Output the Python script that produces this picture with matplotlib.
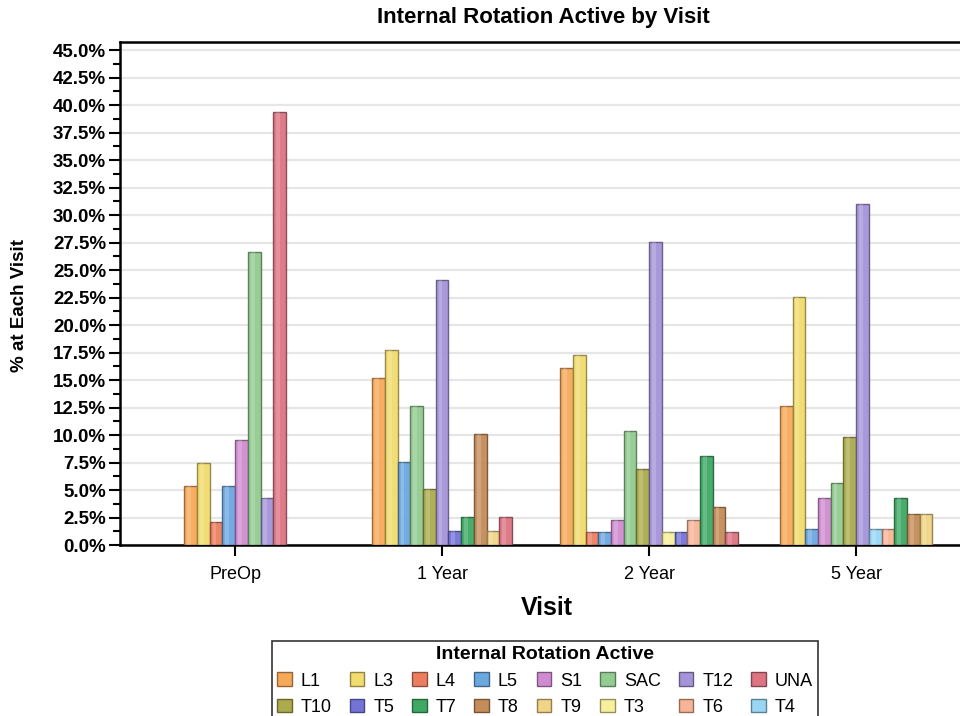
import numpy as np
import matplotlib
matplotlib.use("Agg")
import matplotlib.pyplot as plt
from matplotlib.patches import Patch
from matplotlib.ticker import MultipleLocator, FuncFormatter
import matplotlib.colors as mcolors

plt.rcParams['font.family'] = ['Liberation Sans', 'DejaVu Sans']

visits = ["PreOp", "1 Year", "2 Year", "5 Year"]

# series in the order the bars are drawn inside each group
series = ["L1", "L3", "L4", "L5", "S1", "SAC", "T10", "T12",
          "T3", "T4", "T5", "T6", "T7", "T8", "T9", "UNA"]

# legend order (row by row)
legend_order = ["L1", "L3", "L4", "L5", "S1", "SAC", "T12", "UNA",
                "T10", "T5", "T7", "T8", "T9", "T3", "T6", "T4"]

colors = {
    "L1": "#F7A95A", "L3": "#F2DC6E", "L4": "#EC7E60", "L5": "#6CA8E0",
    "S1": "#D08CD0", "SAC": "#92CC90", "T12": "#A594D8", "UNA": "#DC7482",
    "T10": "#ABAB4C", "T5": "#7474D8", "T7": "#3EA864", "T8": "#C48C58",
    "T9": "#F2D486", "T3": "#F7EF9C", "T6": "#F7B496", "T4": "#98D6F4",
}

# % at each visit (0 = no bar)
pct = {
    "L1":  [5.32, 15.19, 16.09, 12.68],
    "L3":  [7.45, 17.72, 17.24, 22.54],
    "L4":  [2.13, 0.0, 1.15, 0.0],
    "L5":  [5.32, 7.59, 1.15, 1.41],
    "S1":  [9.57, 0.0, 2.30, 4.23],
    "SAC": [26.60, 12.66, 10.34, 5.63],
    "T10": [0.0, 5.06, 6.90, 9.86],
    "T12": [4.26, 24.05, 27.59, 30.99],
    "T3":  [0.0, 0.0, 1.15, 0.0],
    "T4":  [0.0, 0.0, 0.0, 1.41],
    "T5":  [0.0, 1.27, 1.15, 0.0],
    "T6":  [0.0, 0.0, 2.30, 1.41],
    "T7":  [0.0, 2.53, 8.05, 4.23],
    "T8":  [0.0, 10.13, 3.45, 2.82],
    "T9":  [0.0, 1.27, 0.0, 2.82],
    "UNA": [39.36, 2.53, 1.15, 0.0],
}

def darker(c, f=0.6):
    r, g, b = mcolors.to_rgb(c)
    return (r * f, g * f, b * f)

fig = plt.figure(figsize=(9.6, 7.16), dpi=100)
ax = fig.add_axes([0.125, 1 - 545 / 716, 0.875, (545 - 42) / 716])

bw = 0.0614
for i, v in enumerate(visits):
    present = [s for s in series if pct[s][i] > 0]
    n = len(present)
    for k, s in enumerate(present):
        x = i + (k - (n - 1) / 2) * bw
        val = pct[s][i]
        ax.bar(x, val, width=bw, color=colors[s], edgecolor=darker(colors[s]),
               linewidth=1.0, alpha=0.95, zorder=3)
        # soft highlight to mimic the shaded look
        ax.bar(x - bw * 0.12, val, width=bw * 0.3, color="white", alpha=0.18,
               linewidth=0, zorder=4)

ax.set_xlim(-0.556, 3.502)
ax.set_ylim(0, 45.73)
ax.set_xticks(range(len(visits)))
ax.set_xticklabels(visits, fontsize=13)
ax.yaxis.set_major_locator(MultipleLocator(2.5))
ax.yaxis.set_minor_locator(MultipleLocator(1.25))
ax.yaxis.set_major_formatter(FuncFormatter(lambda v, p: f"{v:.1f}%"))
for lab in ax.get_yticklabels():
    lab.set_fontweight("bold")
ax.tick_params(axis="y", labelsize=13.5, length=8, width=1.5, direction="out", pad=2)
ax.tick_params(axis="y", which="minor", length=5, width=1.5)
ax.tick_params(axis="x", length=8, width=1.5, direction="out", pad=7)
ax.grid(axis="y", color="#E6E6E6", linewidth=1.6, zorder=0)
ax.set_axisbelow(True)
ax.spines["right"].set_visible(False)
for sp in ["left", "bottom", "top"]:
    ax.spines[sp].set_linewidth(1.8)

fig.text(543 / 960, 1 - 18 / 716, "Internal Rotation Active by Visit",
         ha="center", va="center", fontsize=16, fontweight="bold")
fig.text(547 / 960, 1 - 608 / 716, "Visit", ha="center", va="center",
         fontsize=18, fontweight="bold")
fig.text(20 / 960, 1 - 305 / 716, "% at Each Visit", ha="center", va="center",
         rotation=90, fontsize=13.5, fontweight="bold")

handles = {s: Patch(facecolor=colors[s], edgecolor=darker(colors[s]), linewidth=1.0)
           for s in series}
ncol = 8
rows = [legend_order[:ncol], legend_order[ncol:]]
ordered = [rows[r][c] for c in range(ncol) for r in range(2)]
leg = fig.legend([handles[s] for s in ordered], ordered, ncol=ncol,
                 loc="upper center", bbox_to_anchor=(545 / 960, 1 - 641 / 716),
                 title="Internal Rotation Active", fontsize=13,
                 title_fontproperties={"weight": "bold", "size": 14},
                 frameon=True, fancybox=False, edgecolor="black",
                 handlelength=0.8, handleheight=0.8, handletextpad=0.5,
                 columnspacing=1.0, labelspacing=0.5, borderpad=0.3,
                 borderaxespad=0)
leg.get_frame().set_linewidth(1.2)

fig.savefig("out.png", dpi=100)
